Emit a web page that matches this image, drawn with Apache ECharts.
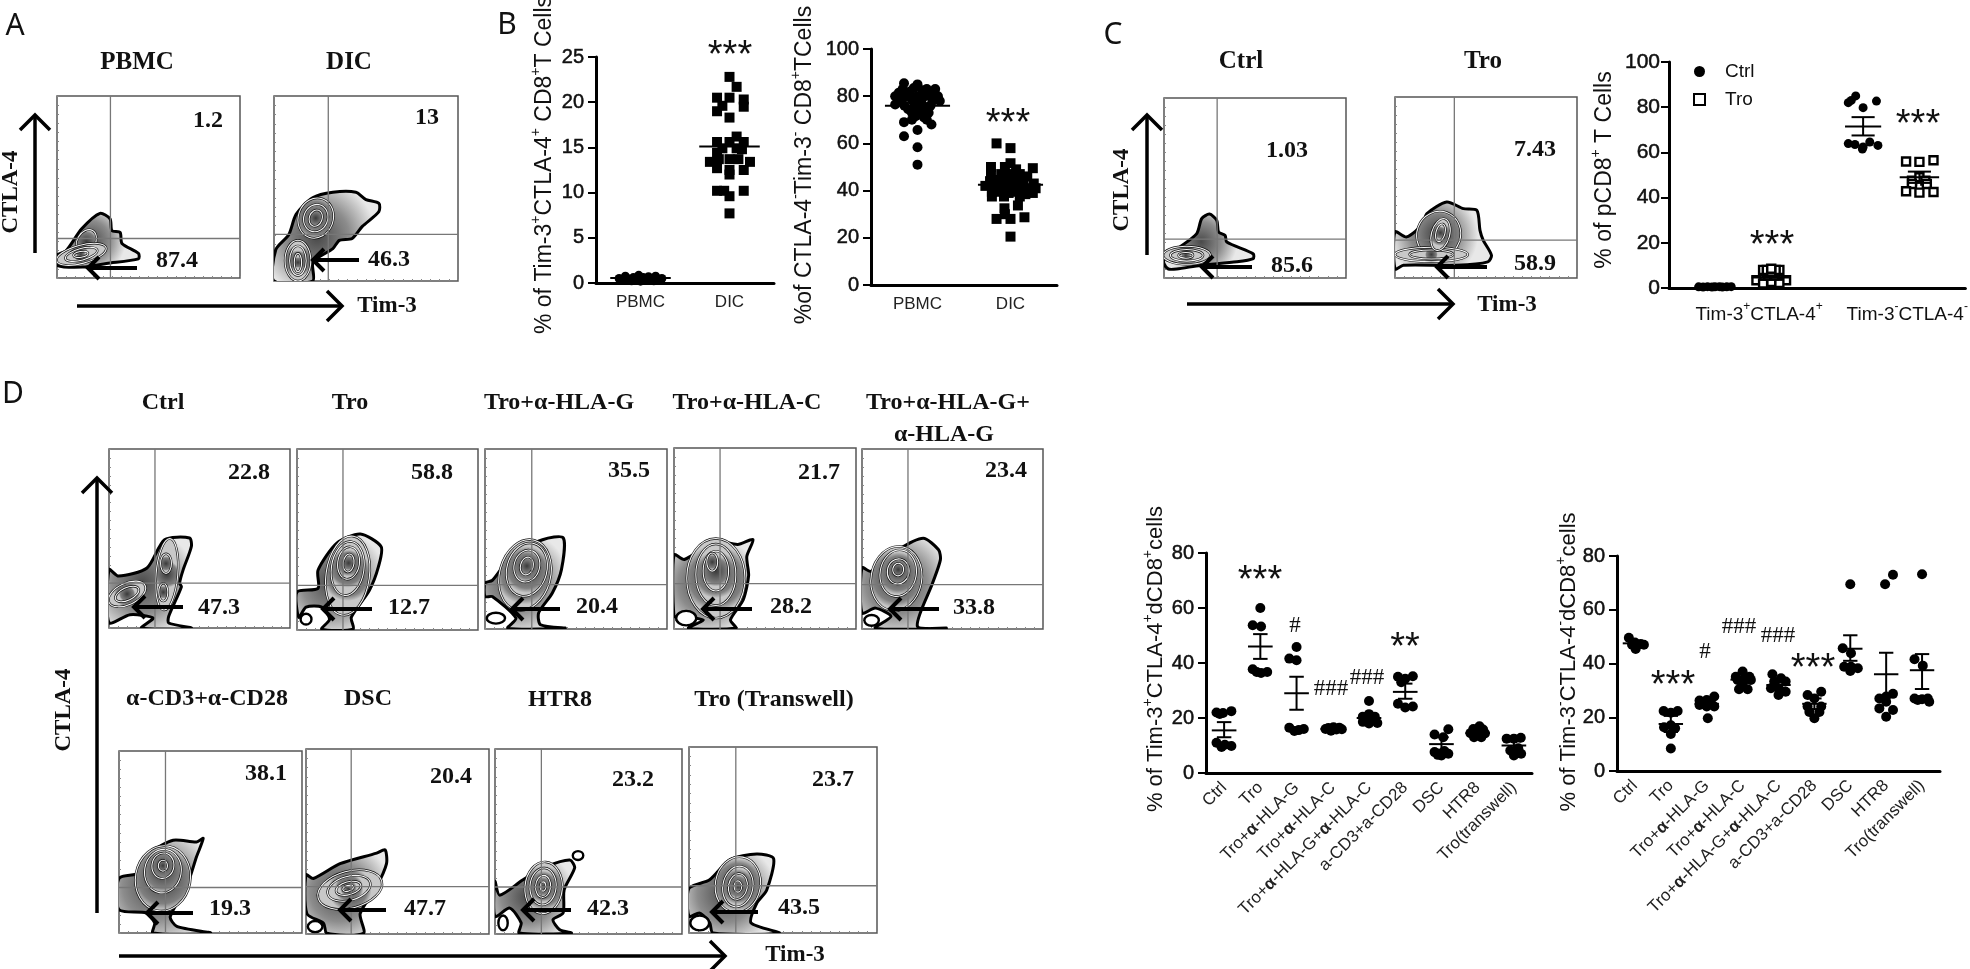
<!DOCTYPE html>
<html>
<head>
<meta charset="utf-8">
<title>Tim-3 CTLA-4 figure</title>
<script src="https://cdn.jsdelivr.net/npm/echarts@6/dist/echarts.min.js"></script>
<style>
html, body { margin: 0; padding: 0; background: #fff; }
#chart { width: 1970px; height: 969px; }
</style>
</head>
<body>
<div id="chart"></div>
<script>
// ---- scatter values: [offset from the group centre, value] ----
var bCats = ['PBMC', 'DIC'];
var b1Pbmc = [[-.24,.5],[-.2,.35],[-.17,.75],[-.13,.45],[-.1,.25],[-.08,.6],[-.05,.35],[-.02,.85],[0,.5],[0,.2],[.03,.6],[.06,.3],[.09,.7],[.12,.45],[.15,.25],[.17,.75],[.2,.4],[.24,.5]];
var b1Dic = [[0,22.8],[.08,21.7],[-.14,20.5],[0,20.5],[.16,20.3],[.16,19.5],[-.14,19],[-.08,19.6],[0,18.3],[.08,16.2],[-.14,15.6],[0,15.6],[.16,15.6],[.08,14.9],[-.08,14.9],[-.14,14.4],[.14,14.8],[-.22,13.4],[-.12,13.7],[0,13.7],[.1,13.7],[.23,13.4],[-.14,12.7],[0,12.5],[.16,12.5],[0,12],[-.14,10.2],[-.06,10.2],[.16,10.2],[0,9.6],[0,7.7]];
var b1Means = [0.55, 15.1];
var b2Pbmc = [[-.145,85.5],[0,85],[.19,83],[-.2,81.5],[-.08,82],[.1,83],[-.16,83],[-.04,83.5],[.05,82.5],[.14,81],[.22,80],[-.24,80],[-.12,80],[0,80],[.08,80],[-.18,78.5],[-.06,78.5],[.04,78],[.16,78],[.24,78],[-.24,76.5],[-.14,76],[-.03,76.5],[.06,76],[.14,76],[-.1,74.5],[0,74.5],[.1,74.5],[-.06,73],[.03,73],[.12,73],[-.02,71.5],[.07,71],[-.145,69],[-.06,70],[.1,70],[.15,68],[-.145,63],[0,65.7],[0,58.4],[0,51]];
var b2Dic = [[-.15,60],[0,58],[0,51.6],[-.21,50],[.24,49.5],[-.06,50],[.06,49],[-.21,47],[-.1,47],[0,47],[.1,47],[.18,46],[-.22,44],[-.13,44.5],[-.04,45],[.05,44],[.14,44],[.25,43],[-.27,42],[-.18,41.5],[-.09,42],[0,42],[.09,42],[.18,41],[.27,41],[-.2,39.5],[-.11,39.5],[-.02,39],[.07,39.5],[.16,38.5],[.24,39],[-.2,37.5],[-.07,37.5],[.1,37.5],[-.065,32.5],[.08,33.7],[-.15,28],[0,28],[.15,28.7],[-.06,30],[0,20.5]];
var b2Means = [76, 42.5];

var cCats = ['Tim-3+CTLA-4+', 'Tim-3-CTLA-4-'];
var cCtrlDouble = [[-.11,.5],[-.08,.4],[-.05,.6],[-.02,.4],[0,.5],[.03,.6],[.05,.4],[.08,.5],[.11,.6]];
var cTroDouble = [[-.1,3.4],[.1,3.4],[0,2.7],[-.055,2],[.055,2.2],[-.02,5.6],[.02,5.6],[-.03,6.5],[.03,6.5],[-.055,8],[.055,8],[-.03,8],[.03,8],[0,7],[0,8.5]];
var cCtrlNeg = [[-.05,85],[.09,82.7],[-.1,82],[0,79.8],[-.08,83],[-.1,63.9],[-.055,63.5],[0,62.4],[.045,64.6],[.1,63.1],[-.005,61.5]];
var cTroNeg = [[-.09,56],[0,55.8],[.095,56.5],[-.05,47.5],[0,49],[.04,47.5],[-.05,46],[.05,46],[-.09,42.8],[0,42.2],[.095,42.5]];
var cCtrlStats = [[0.5,0.4,0.6],[71.5,67.5,75.6]];
var cTroStats = [[4.6,3.6,5.6],[49,46.5,51.5]];

var dCats = ['Ctrl','Tro','Tro+α-HLA-G','Tro+α-HLA-C','Tro+α-HLA-G+α-HLA-C','a-CD3+a-CD28','DSC','HTR8','Tro(transwell)'];
var d1Points = [
    [[-.21,22],[-.03,21.8],[.2,22.5],[-.12,21.5],[-.21,11],[-.07,9.5],[.2,9.8],[.02,10.3]],
    [[0,60],[-.21,53.7],[.02,53.3],[-.21,37.7],[-.1,36.7],[.02,36.4],[.19,36.7]],
    [[0,45.8],[-.2,41.6],[0,41],[-.2,16.5],[-.06,15.3],[.06,15.6],[.2,16]],
    [[-.2,16],[-.12,16.4],[-.05,15.4],[.02,16.6],[.1,15.8],[.18,16.5],[.25,15.9]],
    [[0,26.2],[-.17,20.5],[0,21.4],[.16,20.5],[-.17,18.6],[0,18],[.23,18.2]],
    [[-.2,35],[0,34.3],[.21,35.2],[-.11,33],[-.2,25.2],[0,23.8],[.21,24.2]],
    [[.19,15.9],[-.19,14],[.05,13],[-.19,7.6],[0,6.4],[.19,7],[-.1,6.6],[.08,8]],
    [[.05,17],[-.12,16],[.15,15.8],[-.2,14.5],[0,14.5],[.2,14.4],[-.1,13],[.1,13]],
    [[.19,12.8],[-.2,12.5],[0,12.5],[0,6.4],[.2,7],[-.1,8.2],[.12,9]]
];
var d1Means = [15.5,46,29,16,20,29.5,10.5,14.5,10];
var d1Low = [13,41.5,23,15.6,19.5,27,8.5,14,8.5];
var d1High = [18.5,50.5,35,16.4,21,32.5,13,15,11.5];

var d2Points = [
    [[-.17,49.6],[0,47.8],[.16,47.3],[.02,45.4],[-.08,47],[.25,47]],
    [[-.2,22.3],[0,21.7],[.19,22.3],[-.19,16.3],[0,17],[0,13.8],[.12,15.9],[0,8.4]],
    [[.21,27.7],[-.2,26.2],[0,26.4],[.12,25.2],[-.2,24.6],[.21,24],[0,24],[.03,19.6]],
    [[0,37],[-.19,35.1],[.19,35.1],[-.14,33.9],[.05,33.9],[.23,33.9],[0,32],[-.1,30.4],[.14,30.4]],
    [[-.17,36],[.07,34.5],[.2,33.3],[-.12,33.3],[-.21,30.8],[0,30.8],[.2,29.5],[0,28.3]],
    [[.19,29.5],[-.19,28.3],[0,27],[-.19,24],[.19,24],[-.14,22],[.14,22],[0,19.6]],
    [[0,69.5],[-.21,45.7],[.02,43.8],[-.17,38.8],[0,37.2],[.21,38.2],[.02,38.8]],
    [[.19,73],[-.03,69.5],[.19,28.7],[-.19,27],[0,27.7],[0,25.8],[-.19,23.3],[.19,22.7],[0,20.2]],
    [[0,73.2],[-.21,41.6],[.02,39.2],[-.21,27],[0,26.7],[.16,27],[-.12,26.4],[.2,25.8]]
];
var d2Means = [47.5,17.5,25,34,32,25,45.5,36,37.5];
var d2Low = [46.8,14.5,24,33,31,23,41,28,30.5];
var d2High = [48.2,20.5,26,35,33,27,50.5,44,43.5];

// ---- flow plots: gate [x, y], outer contour, rings [cx, cy, rx, ry, deg], empty holes ----
var flowGates = [[29.2,21.7],[29.5,25.2],[29.2,21.6],[32.6,20.9],[25.4,25.1],[25.4,24.6],[25.7,24.6],[25.3,25.1],[25.4,24.6],[25.4,25],[24.7,25.6],[24.8,25.4],[24.9,25.4]];
var flowOutlines = [
    [[0,12.5],[5,15],[13.5,27],[23.5,35.5],[29,32.5],[30,26],[34.5,25],[35.5,19],[44.5,13.5],[44.5,10.5],[27,8],[14,6],[0,7]],
    [[0,0],[1,17],[8,25],[12,36],[21,45],[32,48],[44.5,48],[50,44],[57,42],[57,37.5],[48,29.5],[42.5,23],[35.5,22],[32,17.5],[24.5,13],[21,9.5],[21,0]],
    [[0,10.8],[8.8,17.3],[18,24.7],[20.7,33],[25,35.5],[29,32],[30,25.5],[33.6,23.6],[34.5,20],[49,13.4],[49,10.8],[40,9],[20,7],[7,5],[2.4,5],[0,8]],
    [[0,25.5],[6.4,22.7],[15.5,30],[17.4,35.5],[28.4,42],[37.6,38.3],[45,37.4],[46.7,26.3],[48.5,20.8],[53,12.6],[51,8.9],[34,7],[4.6,7],[0,5]],
    [[0,32.6],[5.3,29],[21,33.5],[30.7,49.3],[44.5,50.3],[45.5,45.5],[41,32.6],[39,25],[40,23],[33,6.5],[33,2.8],[45.5,0],[18,0],[24.4,5.6],[11.6,7.4],[0,3]],
    [[0,21],[11.6,23],[11.6,33],[22,48],[35,53],[46.5,46],[45,35],[40,22],[30,7],[31,0.5],[13.7,0.5],[18,6],[13.7,12.6],[5,12.6],[1,7]],
    [[0,25.5],[4,27],[15,41],[31.6,49.6],[43,50.6],[42,33],[37,20],[29.5,9],[30.5,2.4],[44,0.5],[12.6,0.5],[17,6],[4,18],[0,18]],
    [[0,41],[5.7,38.4],[22.5,48.5],[35,46.7],[43.4,49.4],[40,40],[41,29.5],[38,16],[31,5],[34,0.5],[8,0.5],[16,5],[3,7],[0,7]],
    [[0,34],[5,32],[20,44],[33.8,50.4],[42.3,44],[43.3,38.4],[39,25.5],[30.6,1.5],[46.5,0.5],[7.4,0.5],[16,7],[7.4,11.6],[0,8.9]],
    [[0,30],[11.3,33],[17,43.9],[29.6,51],[42.4,50],[46,52],[42.4,42],[37,25.6],[28,9],[31.6,3.7],[50,0],[18.6,0],[19.5,5.5],[15,11],[0,12.8]],
    [[0,32],[4,30],[18.6,38],[38.6,43.7],[43.2,45.5],[44,38],[38.6,25.6],[29.6,11],[31.4,0.4],[11.4,0.4],[9.6,5.8],[0.5,11]],
    [[0,28.4],[2.5,21],[15,29.3],[27.7,36.5],[40,40],[42.6,35.8],[37,24],[36.4,11.3],[31,7.7],[34.6,2.3],[40.8,0.5],[13,0.5],[14,6],[7.9,14],[0,9.5]],
    [[0,24],[11,28.6],[21.7,39.3],[36,42.5],[45,40],[41.3,23],[36,16],[33,5.4],[48,0],[12.8,0],[11,5.4],[5.7,10.7],[0,9]]
];
var flowRings = [
    [[16,20,5,7,-30],[13.3,13,14,5,15],[13.3,13,9,3.2,15],[13,13,4,1.6,10]],
    [[22.7,34,9.5,11,-20],[22.7,34,6.5,7.5,-20],[22.7,34,3.5,4.5,-20],[13,11,7,11,0],[13,11,4.5,8,0],[13,10,2,5,0]],
    [[12.5,12.6,13,5,0],[12.5,12.6,9,3.2,0],[12,12.6,4,1.6,0]],
    [[24,24,12,13,-20],[20,13,20,4,0],[20,13,12,2.5,0],[25,24,5,9,-15],[25,25,2.5,5,-15]],
    [[10,19,11,6,25],[10,19,7,3.5,25],[32,30,6,20,-5],[31.5,36,3,5.5,0],[30,20,2.5,5,0]],
    [[28,30,12,22,-8],[28,34,9,15,-8],[28.5,37,6,9,-8],[28.5,37,3,5,-8]],
    [[22,30,14,20,-15],[23,33,11,15,-15],[23,35,7,9,-15],[23,35,3.5,5,-15]],
    [[23,28,16,22,0],[23,30,11,17,0],[23,32,7,11,0],[21,37,3,5,0]],
    [[19,28,14,18,-10],[20,31,10,13,-10],[20,32,6,7,-10],[20,33,3,3.5,-10]],
    [[24,30,15,18,-10],[24,34,10,12,-10],[24,37,6,7,-10],[24,37,2.5,3,0]],
    [[24,24,18,10,15],[23.5,24.7,12,6.5,15],[23.2,24.7,7,3.5,15],[23,24.7,3,1.5,15]],
    [[26,25,10,14,-5],[25.7,25.7,7,10,-5],[25.7,25.7,4,6,-5],[25.7,25.7,1.5,2.5,0]],
    [[26,26,12,15,-10],[26,25,8,11,-10],[26,25,5,7,-10],[26,25,2,3,0]]
];
var flowHoles = [[],[],[],[],[],[[5,6,3,3]],[[6,6,5,3]],[[6.7,6,5.5,4]],[[5.3,4.8,4,3]],[],[[5,4,4,3]],[[4.3,6,2.5,4],[44.4,42.4,2.8,2.4]],[[5.7,5.4,5,4]]];
// flow plot boxes on the page: left, top, right, bottom
var flowBoxes = [[57,96,240,278],[274,96,458,281],[1164,98,1346,278],[1395,97,1577,278],[109,449,290,628],[297,449,478,630],[485,449,667,629],[674,448,856,629],[862,449,1043,629],[119,751,302,933],[306,749,489,934],[495,749,682,934],[689,747,877,933]];
// text inside the flow plots: upper value, lower value
var flowUpper = ['1.2','13','1.03','7.43','22.8','58.8','35.5','21.7','23.4','38.1','20.4','23.2','23.7'];
var flowLower = ['87.4','46.3','85.6','58.9','47.3','12.7','20.4','28.2','33.8','19.3','47.7','42.3','43.5'];
var flowUpperAt = [[208,121],[427,118],[1287,151],[1535,150],[249,473],[432,473],[629,471],[819,473],[1006,471],[266,774],[451,777],[633,780],[833,780]];
var flowLowerAt = [[177,261],[389,260],[1292,266],[1535,264],[219,608],[409,608],[597,607],[791,607],[974,608],[230,909],[425,909],[608,909],[799,908]];
var gateArrows = [[137,88,268],[359,313,260],[1252,1202,267],[1487,1437,267],[183,134,607],[372,323,609],[560,512,609],[752,703,609],[939,890,609],[193,147,913],[386,340,910],[571,523,910],[758,712,912]];

var SANS = '"Liberation Sans", Arial, sans-serif';
var SERIF = '"Liberation Serif", "Times New Roman", serif';
var grids = [], xAxes = [], yAxes = [], series = [], gfx = [];

function supText(parts) {
    // plain pieces and superscript pieces alternate
    return parts.map(function (p, i) { return (i % 2 ? '{s|' : '{n|') + p + '}'; }).join('');
}
function richSup(size) {
    return {
        n: { fontSize: size, fontFamily: SANS, fill: '#111', color: '#111', lineHeight: size + 4, verticalAlign: 'bottom' },
        s: { fontSize: Math.round(size * 0.62), fontFamily: SANS, fill: '#111', color: '#111', lineHeight: size + 4, verticalAlign: 'top' }
    };
}

function label(text, x, y, family, size, weight, rotate) {
    gfx.push({
        type: 'text', x: x, y: y, rotation: rotate ? Math.PI / 2 : 0, z: 100, silent: true,
        style: { text: text, fontFamily: family, fontSize: size, fontWeight: weight || 'normal', fill: '#111', align: 'center', verticalAlign: 'middle' }
    });
}
function axisName(parts, x, y, size) {
    gfx.push({
        type: 'text', x: x, y: y, rotation: Math.PI / 2, z: 100, silent: true,
        style: { text: supText(parts), rich: richSup(size), align: 'center', verticalAlign: 'middle' }
    });
}
function stars(text, x, y) {
    label(text, x, y + 10, SANS, 38);
}
function hashes(text, x, y) {
    label(text, x, y, SERIF, 23);
}
function arrow(x1, y1, x2, y2, width, head) {
    var dx = x2 - x1, dy = y2 - y1, len = Math.sqrt(dx * dx + dy * dy);
    dx /= len; dy /= len;
    var common = { stroke: '#000', lineWidth: width, fill: null };
    gfx.push({ type: 'polyline', z: 99, silent: true, shape: { points: [[x1, y1], [x2, y2]] }, style: common });
    gfx.push({
        type: 'polyline', z: 99, silent: true,
        shape: { points: [[x2 - head * dx - head * dy, y2 - head * dy + head * dx], [x2, y2], [x2 - head * dx + head * dy, y2 - head * dy - head * dx]] },
        style: common
    });
}

// one dot plot: category axis for the labels, hidden value axis for the jitter
function addPlot(cfg) {
    var g = grids.length;
    grids.push({ left: cfg.left, top: cfg.top, width: cfg.width, height: cfg.height });
    var n = cfg.cats.length;
    xAxes.push({
        type: 'category', gridIndex: g, data: cfg.cats, boundaryGap: true,
        axisLine: { lineStyle: { color: '#000', width: 3 } },
        axisTick: { alignWithLabel: true, length: 6, lineStyle: { color: '#000', width: 2 } },
        axisLabel: Object.assign({ interval: 0, color: '#222', fontFamily: SANS, fontSize: cfg.xSize || 17, margin: 11 }, cfg.xLabel || {})
    });
    xAxes.push({ type: 'value', gridIndex: g, min: -0.5, max: n - 0.5, show: false });
    yAxes.push({
        type: 'value', gridIndex: g, min: 0, max: cfg.max, interval: cfg.step,
        splitLine: { show: false },
        axisLine: { show: true, onZero: false, lineStyle: { color: '#000', width: 3 } },
        axisTick: { show: true, length: 8, lineStyle: { color: '#000', width: 2 } },
        axisLabel: { color: '#111', fontFamily: SANS, fontSize: cfg.ySize || 20, margin: cfg.yMargin || 12, textBorderColor: '#111', textBorderWidth: 0.5 }
    });
    return { x: xAxes.length - 1, y: yAxes.length - 1 };
}
function dots(ax, name, pts, group, symbol, size, hollow) {
    series.push({
        type: 'scatter', name: name, xAxisIndex: ax.x, yAxisIndex: ax.y, symbol: symbol, symbolSize: size, silent: true,
        itemStyle: hollow ? { color: '#fff', borderColor: '#000', borderWidth: 2.4, opacity: 1 } : { color: '#000', opacity: 1 },
        data: pts.map(function (p) { return [group + p[0], p[1]]; })
    });
}
// mean line with optional error bars, rows are [x, mean, low, high]
function stats(ax, rows, halfMean, halfCap) {
    series.push({
        type: 'custom', xAxisIndex: ax.x, yAxisIndex: ax.y, silent: true, z: 5,
        data: rows,
        renderItem: function (params, api) {
            var x = api.value(0), mean = api.value(1), lo = api.value(2), hi = api.value(3);
            var kids = [];
            function seg(a, b) {
                var p = api.coord(a), q = api.coord(b);
                kids.push({ type: 'line', shape: { x1: p[0], y1: p[1], x2: q[0], y2: q[1] }, style: { stroke: '#000', lineWidth: 2 } });
            }
            seg([x - halfMean, mean], [x + halfMean, mean]);
            if (!isNaN(lo)) {
                seg([x, lo], [x, hi]);
                seg([x - halfCap, lo], [x + halfCap, lo]);
                seg([x - halfCap, hi], [x + halfCap, hi]);
            }
            return { type: 'group', children: kids };
        }
    });
}

// ---- panel B ----
var b1 = addPlot({ left: 596, top: 57, width: 178, height: 226, cats: bCats, max: 25, step: 5 });
dots(b1, 'PBMC', b1Pbmc, 0, 'circle', 9);
dots(b1, 'DIC', b1Dic, 1, 'rect', 10);
stats(b1, b1Means.map(function (m, i) { return [i, m]; }), 0.34, 0);
var b2 = addPlot({ left: 871, top: 49, width: 186, height: 236, cats: bCats, max: 100, step: 20 });
dots(b2, 'PBMC', b2Pbmc, 0, 'circle', 10);
dots(b2, 'DIC', b2Dic, 1, 'rect', 10);
stats(b2, b2Means.map(function (m, i) { return [i, m]; }), 0.35, 0);

// ---- panel C ----
var cAx = addPlot({
    left: 1669, top: 62, width: 300, height: 226, cats: cCats, max: 100, step: 20, ySize: 21, yMargin: 9,
    xLabel: {
        fontSize: 19, margin: 13, padding: [0, 0, 0, 32],
        formatter: function (v) {
            var sign = v.slice(-1);
            return '{n|Tim-3}{s|' + sign + '}{n|CTLA-4}{s|' + sign + '}';
        },
        rich: richSup(19)
    }
});
dots(cAx, 'Ctrl', cCtrlDouble.map(function (p) { return [p[0] - 0.19, p[1]]; }).concat(cCtrlNeg.map(function (p) { return [p[0] + 0.81, p[1]]; })), 0, 'circle', 9);
dots(cAx, 'Tro', cTroDouble.map(function (p) { return [p[0] + 0.19, p[1]]; }).concat(cTroNeg.map(function (p) { return [p[0] + 1.19, p[1]]; })), 0, 'rect', 8, true);
stats(cAx, cCtrlStats.map(function (s, i) { return [i - 0.19, s[0], s[1], s[2]]; }), 0.122, 0.078);
stats(cAx, cTroStats.map(function (s, i) { return [i + 0.19, s[0], s[1], s[2]]; }), 0.133, 0.078);

// ---- panel D dot plots ----
function dLabel() {
    return {
        rotate: 45, fontSize: 17, margin: 12,
        formatter: function (v) { return v.split('α').join('{a|α}'); },
        rich: { a: { fontFamily: SANS, fontSize: 17, fontWeight: 'bold', color: '#222' } }
    };
}
function dotPlotD(box, pts, means, low, high) {
    var ax = addPlot({ left: box[0], top: box[1], width: box[2], height: box[3], cats: dCats, max: 80, step: 20, xLabel: dLabel() });
    pts.forEach(function (g, i) { dots(ax, dCats[i], g, i, 'circle', 10); });
    stats(ax, means.map(function (m, i) { return [i, m, low[i], high[i]]; }), 0.34, 0.2);
}
dotPlotD([1206, 553, 326, 220], d1Points, d1Means, d1Low, d1High);
dotPlotD([1617, 556, 323, 215], d2Points, d2Means, d2Low, d2High);

// ---- flow plots ----
function ringGradient() {
    return new echarts.graphic.RadialGradient(0.5, 0.5, 0.55, [
        { offset: 0, color: '#3a3a3a' }, { offset: 0.8, color: '#808080' }, { offset: 1, color: '#c8c8c8' }
    ]);
}
function blobGradient() {
    return new echarts.graphic.RadialGradient(0.42, 0.5, 0.62, [
        { offset: 0, color: '#4a4a4a' }, { offset: 0.55, color: '#8c8c8c' }, { offset: 1, color: '#e8e8e8' }
    ]);
}
flowBoxes.forEach(function (b, p) {
    var g = grids.length;
    grids.push({ left: b[0], top: b[1], width: b[2] - b[0], height: b[3] - b[1], show: true, borderColor: '#555', borderWidth: 1.5, backgroundColor: '#fff' });
    var hidden = {
        type: 'value', gridIndex: g, min: 0, max: 100, interval: 5,
        splitLine: { show: false }, axisLabel: { show: false },
        axisLine: { show: false },
        axisTick: { show: true, inside: true, length: 2, lineStyle: { color: '#888', width: 1 } }
    };
    xAxes.push(hidden);
    yAxes.push(Object.assign({}, hidden));
    series.push({
        type: 'custom', xAxisIndex: xAxes.length - 1, yAxisIndex: yAxes.length - 1, silent: true, clip: true,
        data: [flowGates[p]],
        renderItem: function (params, api) {
            var kids = [];
            function ell(r, style) {
                var c = api.coord([r[0], r[1]]), s = api.size([r[2], r[3]]);
                kids.push({
                    type: 'ellipse', x: c[0], y: c[1], rotation: (r[4] || 0) * Math.PI / 180,
                    shape: { cx: 0, cy: 0, rx: s[0], ry: s[1] }, style: style
                });
            }
            kids.push({
                type: 'polygon',
                shape: { points: flowOutlines[p].map(function (q) { return api.coord(q); }), smooth: 0.25 },
                style: { fill: blobGradient(), stroke: '#000', lineWidth: 3 }
            });
            flowRings[p].forEach(function (r) {
                ell(r, { fill: ringGradient(), stroke: '#111', lineWidth: 2.4 });
                ell(r, { fill: null, stroke: '#f5f5f5', lineWidth: 1.1 });
            });
            flowHoles[p].forEach(function (r) {
                ell(r, { fill: '#fff', stroke: '#000', lineWidth: 2.4 });
            });
            var vx = api.coord([api.value(0), 0]), top = api.coord([api.value(0), 100]);
            var hy = api.coord([0, api.value(1)]), right = api.coord([100, api.value(1)]);
            kids.push({ type: 'line', shape: { x1: vx[0], y1: vx[1], x2: top[0], y2: top[1] }, style: { stroke: '#777', lineWidth: 1.3 } });
            kids.push({ type: 'line', shape: { x1: hy[0], y1: hy[1], x2: right[0], y2: right[1] }, style: { stroke: '#777', lineWidth: 1.3 } });
            return { type: 'group', children: kids };
        }
    });
    label(flowUpper[p], flowUpperAt[p][0], flowUpperAt[p][1], SERIF, 24, 'bold');
    label(flowLower[p], flowLowerAt[p][0], flowLowerAt[p][1], SERIF, 24, 'bold');
    arrow(gateArrows[p][0], gateArrows[p][2], gateArrows[p][1], gateArrows[p][2], 4, 11);
});

// ---- page text and arrows ----
[['A', 15, 26], ['B', 507, 25], ['C', 1113, 35], ['D', 13, 394]].forEach(function (l) {
    label(l[0], l[1], l[2], '"Noto Sans", sans-serif', 30);
});
[['PBMC', 137, 63], ['DIC', 349, 63], ['Ctrl', 1241, 62], ['Tro', 1483, 62]].forEach(function (l) {
    label(l[0], l[1], l[2], SERIF, 25, 'bold');
});
[['Ctrl', 163, 403], ['Tro', 350, 403], ['Tro+α-HLA-G', 559, 403], ['Tro+α-HLA-C', 747, 403], ['Tro+α-HLA-G+', 948, 403], ['α-HLA-G', 944, 435],
 ['α-CD3+α-CD28', 207, 699], ['DSC', 368, 699], ['HTR8', 560, 700], ['Tro (Transwell)', 774, 700]].forEach(function (l) {
    label(l[0], l[1], l[2], SERIF, 24, 'bold');
});
label('Tim-3', 387, 306, SERIF, 23, 'bold');
label('CTLA-4', 11, 192, SERIF, 23, 'bold', true);
label('Tim-3', 1507, 305, SERIF, 23, 'bold');
label('CTLA-4', 1122, 190, SERIF, 23, 'bold', true);
label('Tim-3', 795, 955, SERIF, 23, 'bold');
label('CTLA-4', 64, 710, SERIF, 23, 'bold', true);
arrow(35, 253, 35, 115, 3.5, 15);
arrow(77, 306, 342, 306, 3.5, 15);
arrow(1147, 255, 1147, 115, 3.5, 15);
arrow(1187, 304, 1453, 304, 3.5, 15);
arrow(97, 913, 97, 478, 3.5, 15);
arrow(119, 956, 725, 956, 3.5, 15);

axisName(['% of Tim-3', '+', 'CTLA-4', '+', ' CD8', '+', 'T Cells'], 543, 165, 23);
axisName(['%of CTLA-4', '-', 'Tim-3', '-', ' CD8', '+', 'TCells'], 803, 165, 23);
axisName(['% of pCD8', '+', ' T Cells'], 1603, 170, 23);
axisName(['% of Tim-3', '+', 'CTLA-4', '+', 'dCD8', '+', 'cells'], 1154, 659, 22);
axisName(['% of Tim-3', '-', 'CTLA-4', '-', 'dCD8', '+', 'cells'], 1567, 662, 22);

stars('***', 730, 47);
stars('***', 1008, 115);
stars('***', 1772, 237);
stars('***', 1918, 116);
stars('***', 1260, 572);
stars('**', 1405, 639);
stars('***', 1673, 677);
stars('***', 1813, 660);
hashes('#', 1295, 626);
hashes('###', 1331, 689);
hashes('###', 1367, 678);
hashes('#', 1705, 652);
hashes('###', 1739, 627);
hashes('###', 1778, 636);

var myChart = echarts.init(document.getElementById('chart'));
myChart.setOption({
    backgroundColor: '#fff',
    animation: false,
    legend: {
        orient: 'vertical', left: 1688, top: 57, itemGap: 9, itemWidth: 11, itemHeight: 11, selectedMode: false,
        data: [{ name: 'Ctrl', icon: 'circle' }, { name: 'Tro', icon: 'rect' }],
        textStyle: { fontFamily: SANS, fontSize: 19, color: '#111', padding: [0, 0, 0, 15] }
    },
    grid: grids,
    xAxis: xAxes,
    yAxis: yAxes,
    series: series,
    graphic: { elements: gfx }
});
</script>
</body>
</html>
